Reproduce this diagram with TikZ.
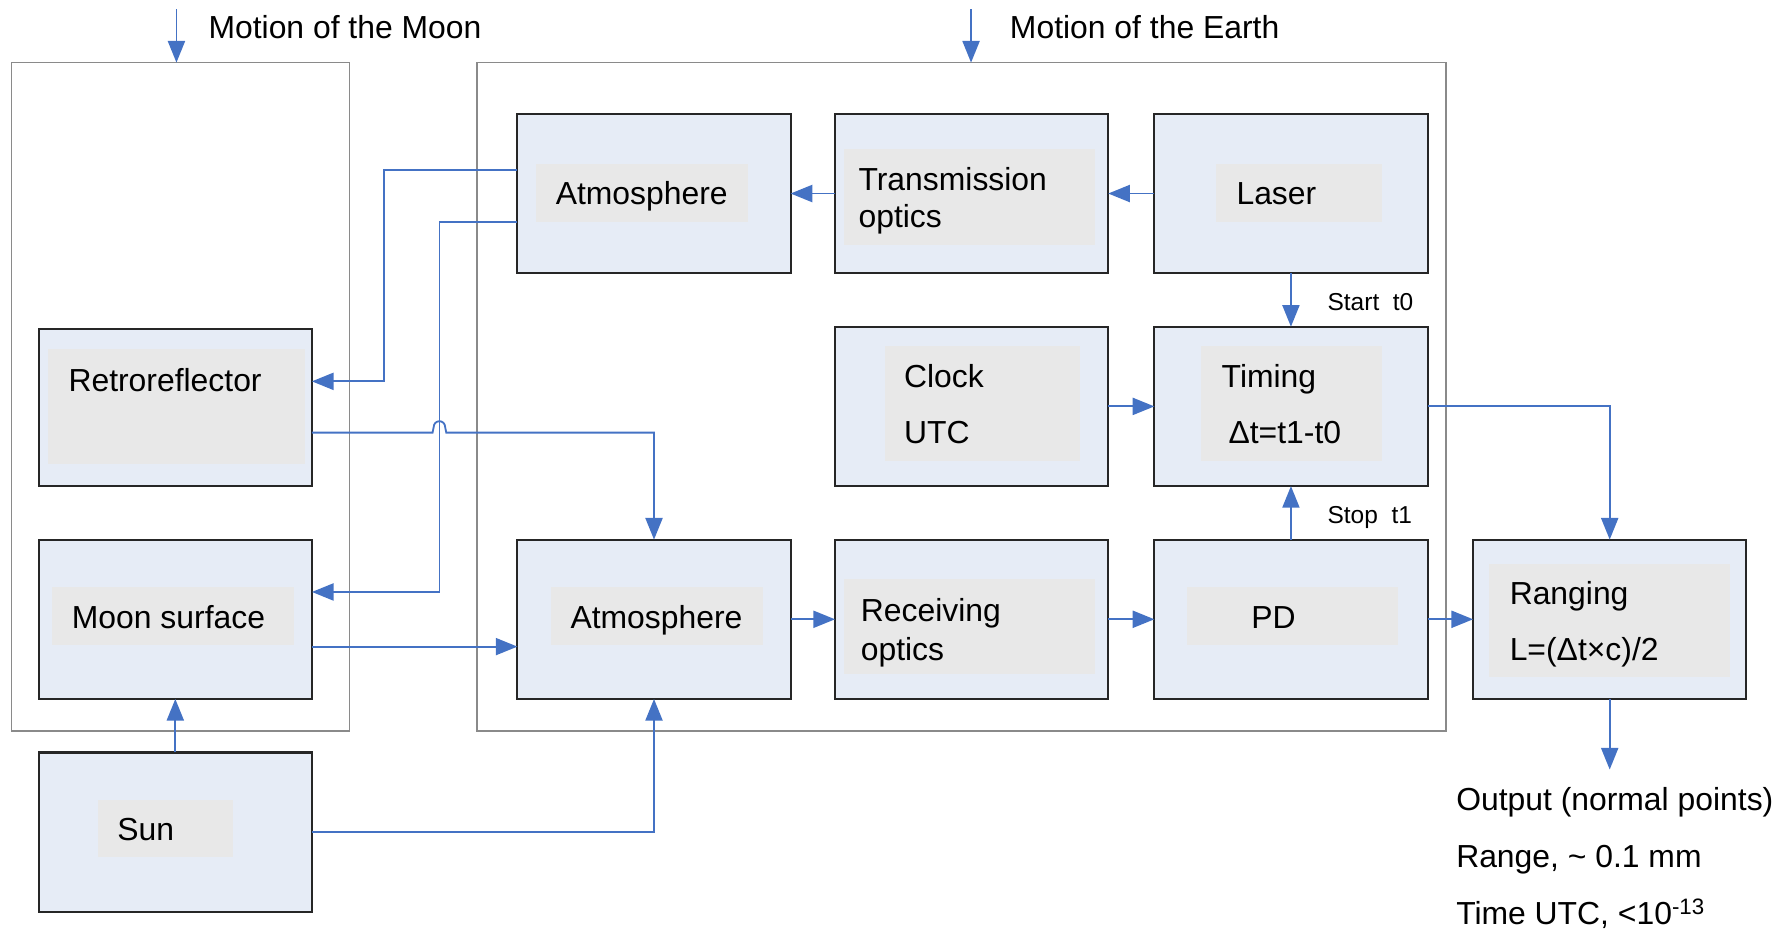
\documentclass[tikz,border=0pt]{standalone}
\usepackage{fontspec}
\setmainfont{Liberation Sans}
\usetikzlibrary{arrows.meta,calc}
\definecolor{conncol}{HTML}{4472C4}
\definecolor{boxfill}{HTML}{E6ECF6}
\definecolor{innerfill}{HTML}{E8E8E8}
\definecolor{boxline}{HTML}{262626}
\definecolor{contline}{HTML}{8A8A8A}
\begin{document}
\begin{tikzpicture}[x=1pt,y=-1pt,
  blk/.style={draw=boxline,line width=1.8pt,fill=boxfill,minimum width=240pt,minimum height=140pt,inner sep=0pt,outer sep=0pt},
  inbox/.style={fill=innerfill,inner sep=0pt,outer sep=0pt},
  cont/.style={draw=contline,line width=1.5pt,inner sep=0pt,outer sep=0pt},
  lbl/.style={font=\fontsize{28}{34}\selectfont,inner sep=0pt,anchor=base west,text=black},
  slbl/.style={font=\fontsize{21.5}{26}\selectfont,inner sep=0pt,anchor=base west,fill=white,text=black},
  conn/.style={draw=conncol,line width=1.6pt,-{Triangle[length=19pt,width=15pt]}},
  line/.style={draw=conncol,line width=1.6pt}]
\useasboundingbox (0,0) rectangle (1568,818);
% containers
\node[cont,minimum width=297pt,minimum height=587pt] (moonC) at (158.5,348.5) {};
\node[cont,minimum width=851pt,minimum height=587pt] (earthC) at (844.5,348.5) {};
% boxes
\node[blk] (atmT) at (574.5,170) {};
\node[blk] (trans) at (853.5,170) {};
\node[blk] (laser) at (1134,170) {};
\node[blk] (clock) at (853.5,357) {};
\node[blk] (timing) at (1134,357) {};
\node[blk] (atmB) at (574.5,544) {};
\node[blk] (recv) at (853.5,544) {};
\node[blk] (pd) at (1134,544) {};
\node[blk] (rang) at (1414,544) {};
\node[blk,minimum height=138pt] (retro) at (154,358) {};
\node[blk] (moon) at (154,544) {};
\node[blk] (sun) at (154,731) {};
% inner grey panels
\node[inbox,minimum width=186pt,minimum height=51pt] (iatmT) at (564,169.5) {};
\node[inbox,minimum width=221pt,minimum height=84pt] (itrans) at (851.5,173) {};
\node[inbox,minimum width=146pt,minimum height=51pt] (ilaser) at (1141,169.5) {};
\node[inbox,minimum width=172pt,minimum height=101pt] (iclock) at (863,354.5) {};
\node[inbox,minimum width=159pt,minimum height=101pt] (itiming) at (1134.5,354.5) {};
\node[inbox,minimum width=186pt,minimum height=51pt] (iatmB) at (577,541.5) {};
\node[inbox,minimum width=221pt,minimum height=83pt] (irecv) at (851.5,550.5) {};
\node[inbox,minimum width=185pt,minimum height=51pt] (ipd) at (1135.5,541.5) {};
\node[inbox,minimum width=212pt,minimum height=100pt] (irang) at (1414,545) {};
\node[inbox,minimum width=226pt,minimum height=101pt] (iretro) at (155,357.5) {};
\node[inbox,minimum width=212pt,minimum height=51pt] (imoon) at (152,541.5) {};
\node[inbox,minimum width=119pt,minimum height=50pt] (isun) at (145.5,728) {};
% texts
\node[lbl] (tatmT) at (488,180) {Atmosphere};
\node[lbl] (ttrans1) at (754,167) {Transmission};
\node[lbl] (ttrans2) at (754,200) {optics};
\node[lbl] (tlaser) at (1086,180) {Laser};
\node[lbl] (tclock1) at (794,340) {Clock};
\node[lbl] (tclock2) at (794,390) {UTC};
\node[lbl] (ttiming1) at (1073,340) {Timing};
\node[lbl] (ttiming2) at (1079,390) {Δt=t1-t0};
\node[lbl] (tatmB) at (501,552) {Atmosphere};
\node[lbl] (trecv1) at (756,546) {Receiving};
\node[lbl] (trecv2) at (756,580) {optics};
\node[lbl] (tpd) at (1099,552) {PD};
\node[lbl] (trang1) at (1326,531) {Ranging};
\node[lbl] (trang2) at (1326,580) {L=(Δt×c)/2};
\node[lbl] (tretro) at (60,344) {Retroreflector};
\node[lbl] (tmoon) at (63,552) {Moon surface};
\node[lbl] (tsun) at (103,738) {Sun};
\node[lbl] (tmm) at (183,34) {Motion of the Moon};
\node[lbl] (tme) at (887,34) {Motion of the Earth};
\node[lbl] (tout1) at (1279,712) {Output (normal points)};
\node[lbl] (tout2) at (1279,762) {Range, \textasciitilde{} 0.1 mm};
\node[lbl] (tout3) at (1279,812) {Time UTC, <10\textsuperscript{-13}};
% free ends
\coordinate (mmtop) at (155,8);
\coordinate (metop) at (853,8);
\coordinate (outend) at (1414,676);
% connectors
\draw[conn] (mmtop) -- ([xshift=-3.5pt]moonC.north);
\draw[conn] (metop) -- ([xshift=8.5pt]earthC.north);
\draw[conn] (laser.west) -- (trans.east);
\draw[conn] (trans.west) -- (atmT.east);
\draw[conn] ([yshift=21pt]atmT.west) -| (337,335) -- ([yshift=23pt]retro.east);
\draw[conn] ([yshift=-25pt]atmT.west) -| (386,520) -- ([yshift=24pt]moon.east);
\draw[conn] ([yshift=-22pt]retro.east) -- (380,380) -- (381,375) arc[start angle=180,end angle=0,radius=5pt] -- (392,380) -| (atmB.north);
\draw[conn] ([yshift=-24pt]moon.east) -- ([yshift=-24pt]atmB.west);
\draw[conn] (sun.north) -- (moon.south);
\draw[conn] (sun.east) -| (atmB.south);
\draw[conn] (atmB.east) -- (recv.west);
\draw[conn] (recv.east) -- (pd.west);
\draw[conn] (pd.east) -- (rang.west);
\draw[conn] (laser.south) -- (timing.north);
\draw[conn] (pd.north) -- (timing.south);
\draw[conn] (clock.east) -- (timing.west);
\draw[conn] (timing.east) -| (rang.north);
\draw[conn] (rang.south) -- (outend);
% small labels
\node[slbl] (tstart) at (1166,273) {Start\ \ t0};
\node[slbl] (tstop) at (1166,460) {Stop\ \ t1};
\end{tikzpicture}
\end{document}
